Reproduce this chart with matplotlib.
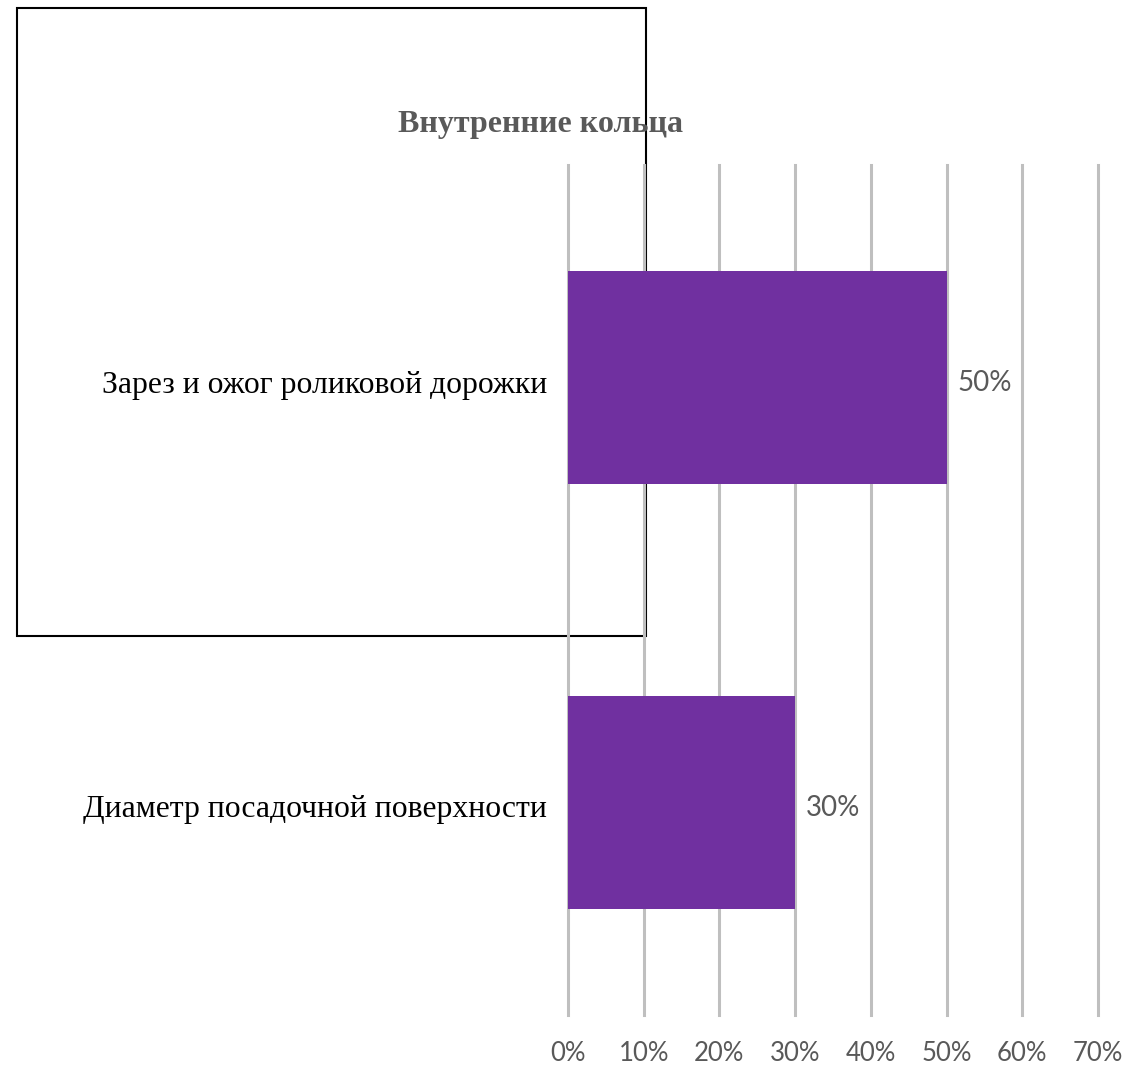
import matplotlib
matplotlib.use("Agg")
import matplotlib.pyplot as plt
from matplotlib.patches import Rectangle
from matplotlib.ticker import FuncFormatter, MultipleLocator
from matplotlib.transforms import ScaledTranslation

categories = ["Зарез и ожог роликовой дорожки", "Диаметр посадочной поверхности"]
values = [0.50, 0.30]
title = "Внутренние кольца"

W, H = 1132, 1068
fig = plt.figure(figsize=(W / 100, H / 100), dpi=100)

# background frame rectangle (behind the chart)
fig.patches.append(Rectangle((17 / W, 1 - 636 / H), (646 - 17) / W, (636 - 8) / H,
                             transform=fig.transFigure, fill=False, edgecolor="black",
                             linewidth=1.5, zorder=0))

ax = fig.add_axes([568 / W, 1 - 1015 / H, (1098 - 568) / W, (1015 - 165) / H])
ax.set_zorder(1)
ax.patch.set_alpha(0)

y = list(range(len(categories)))
bars = ax.barh(y, values, height=0.5, color="#7030A0", zorder=3)
ax.set_ylim(len(categories) - 0.5, -0.5)
ax.set_xlim(0, 0.70)
ax.xaxis.set_major_locator(MultipleLocator(0.10))
ax.xaxis.set_major_formatter(FuncFormatter(lambda v, p: f"{v*100:.0f}%"))
ax.grid(axis="x", color="#BFBFBF", linewidth=2.2, zorder=0)
ax.set_axisbelow(True)
for s in ax.spines.values():
    s.set_visible(False)
ax.tick_params(axis="x", length=0, pad=19, labelsize=18.5, labelcolor="#595959")
ax.tick_params(axis="y", length=0, pad=15)
ax.set_yticks(y)
ax.set_yticklabels(categories, fontsize=22.8, family="Liberation Serif", color="black")
for lab in ax.get_xticklabels():
    lab.set_family("Lato")
shift = ScaledTranslation(0, -4 / 100, fig.dpi_scale_trans)
for lab in ax.get_yticklabels():
    lab.set_transform(lab.get_transform() + shift)

fig.canvas.draw()
for gl in ax.xaxis.get_gridlines():
    gl.set_clip_on(False)

for b, v in zip(bars, values):
    ax.annotate(f"{v*100:.0f}%", (b.get_width(), b.get_y() + b.get_height() / 2),
                xytext=(8, -4), textcoords="offset points", va="center", ha="left",
                fontsize=20, color="#595959", family="Lato")

fig.text(541 / W, 1 - 124 / H, title, ha="center", va="center", fontsize=23,
         fontweight="bold", family="Liberation Serif", color="#595959")

fig.savefig("out.png", dpi=100)
